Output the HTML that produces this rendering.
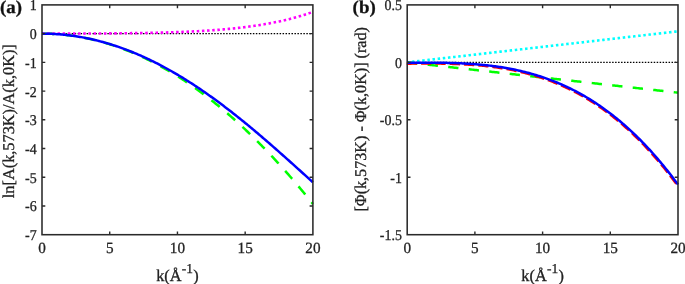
<!DOCTYPE html>
<html lang="en"><head><meta charset="utf-8"><title>Figure</title>
<style>html,body{margin:0;padding:0;background:#fff}svg{display:block;text-rendering:geometricPrecision}</style></head>
<body>
<svg width="685" height="284" viewBox="0 0 685 284">
<rect width="685" height="284" fill="#fff"/>
<g fill="none">
<path d="M42.0,33.62H312.9" stroke="#000" stroke-width="1.3" stroke-dasharray="1.5 1.47"/>
<path d="M42.00,33.62 L43.35,33.63 L44.71,33.64 L46.06,33.66 L47.42,33.69 L48.77,33.73 L50.13,33.78 L51.48,33.83 L52.84,33.90 L54.19,33.97 L55.55,34.05 L56.90,34.14 L58.25,34.24 L59.61,34.34 L60.96,34.46 L62.32,34.58 L63.67,34.72 L65.03,34.86 L66.38,35.00 L67.74,35.16 L69.09,35.33 L70.44,35.50 L71.80,35.69 L73.15,35.88 L74.51,36.08 L75.86,36.29 L77.22,36.50 L78.57,36.73 L79.93,36.96 L81.28,37.21 L82.63,37.46 L83.99,37.72 L85.34,37.99 L86.70,38.26 L88.05,38.55 L89.41,38.84 L90.76,39.14 L92.12,39.45 L93.47,39.77 L94.83,40.10 L96.18,40.44 L97.53,40.78 L98.89,41.14 L100.24,41.50 L101.60,41.87 L102.95,42.25 L104.31,42.64 L105.66,43.03 L107.02,43.44 L108.37,43.85 L109.72,44.27 L111.08,44.70 L112.43,45.14 L113.79,45.59 L115.14,46.04 L116.50,46.51 L117.85,46.98 L119.21,47.46 L120.56,47.95 L121.92,48.45 L123.27,48.96 L124.62,49.47 L125.98,49.99 L127.33,50.53 L128.69,51.07 L130.04,51.62 L131.40,52.17 L132.75,52.74 L134.11,53.32 L135.46,53.90 L136.81,54.49 L138.17,55.09 L139.52,55.70 L140.88,56.32 L142.23,56.94 L143.59,57.58 L144.94,58.22 L146.30,58.87 L147.65,59.53 L149.01,60.20 L150.36,60.88 L151.71,61.56 L153.07,62.26 L154.42,62.96 L155.78,63.67 L157.13,64.39 L158.49,65.12 L159.84,65.86 L161.20,66.60 L162.55,67.36 L163.90,68.12 L165.26,68.89 L166.61,69.67 L167.97,70.46 L169.32,71.25 L170.68,72.06 L172.03,72.87 L173.39,73.69 L174.74,74.52 L176.10,75.36 L177.45,76.21 L178.80,77.07 L180.16,77.93 L181.51,78.80 L182.87,79.68 L184.22,80.57 L185.58,81.47 L186.93,82.38 L188.29,83.30 L189.64,84.22 L191.00,85.15 L192.35,86.09 L193.70,87.04 L195.06,88.00 L196.41,88.97 L197.77,89.94 L199.12,90.93 L200.48,91.92 L201.83,92.92 L203.19,93.93 L204.54,94.95 L205.89,95.97 L207.25,97.01 L208.60,98.05 L209.96,99.10 L211.31,100.16 L212.67,101.23 L214.02,102.31 L215.38,103.40 L216.73,104.49 L218.08,105.59 L219.44,106.70 L220.79,107.82 L222.15,108.95 L223.50,110.09 L224.86,111.24 L226.21,112.39 L227.57,113.55 L228.92,114.72 L230.28,115.90 L231.63,117.09 L232.98,118.29 L234.34,119.49 L235.69,120.71 L237.05,121.93 L238.40,123.16 L239.76,124.40 L241.11,125.65 L242.47,126.90 L243.82,128.17 L245.17,129.44 L246.53,130.72 L247.88,132.01 L249.24,133.31 L250.59,134.62 L251.95,135.94 L253.30,137.26 L254.66,138.59 L256.01,139.93 L257.37,141.28 L258.72,142.64 L260.07,144.01 L261.43,145.38 L262.78,146.77 L264.14,148.16 L265.49,149.56 L266.85,150.97 L268.20,152.39 L269.56,153.82 L270.91,155.25 L272.26,156.70 L273.62,158.15 L274.97,159.61 L276.33,161.08 L277.68,162.55 L279.04,164.04 L280.39,165.54 L281.75,167.04 L283.10,168.55 L284.46,170.07 L285.81,171.60 L287.16,173.14 L288.52,174.68 L289.87,176.24 L291.23,177.80 L292.58,179.37 L293.94,180.95 L295.29,182.54 L296.65,184.14 L298.00,185.74 L299.35,187.36 L300.71,188.98 L302.06,190.61 L303.42,192.25 L304.77,193.90 L306.13,195.55 L307.48,197.22 L308.84,198.89 L310.19,200.57 L311.55,202.27 L312.90,203.96" stroke="#00ff00" stroke-width="2.5" stroke-dasharray="10.6 9.84" stroke-dashoffset="-1.6"/>
<path d="M42.00,33.62 L43.35,33.62 L44.71,33.62 L46.06,33.62 L47.42,33.62 L48.77,33.62 L50.13,33.62 L51.48,33.62 L52.84,33.62 L54.19,33.62 L55.55,33.62 L56.90,33.62 L58.25,33.61 L59.61,33.61 L60.96,33.61 L62.32,33.61 L63.67,33.61 L65.03,33.60 L66.38,33.60 L67.74,33.60 L69.09,33.60 L70.44,33.59 L71.80,33.59 L73.15,33.59 L74.51,33.58 L75.86,33.58 L77.22,33.57 L78.57,33.57 L79.93,33.56 L81.28,33.56 L82.63,33.55 L83.99,33.55 L85.34,33.54 L86.70,33.54 L88.05,33.53 L89.41,33.53 L90.76,33.52 L92.12,33.51 L93.47,33.51 L94.83,33.50 L96.18,33.49 L97.53,33.48 L98.89,33.48 L100.24,33.47 L101.60,33.46 L102.95,33.45 L104.31,33.44 L105.66,33.43 L107.02,33.42 L108.37,33.41 L109.72,33.40 L111.08,33.39 L112.43,33.38 L113.79,33.37 L115.14,33.35 L116.50,33.34 L117.85,33.33 L119.21,33.31 L120.56,33.30 L121.92,33.29 L123.27,33.27 L124.62,33.25 L125.98,33.24 L127.33,33.22 L128.69,33.21 L130.04,33.19 L131.40,33.17 L132.75,33.15 L134.11,33.13 L135.46,33.11 L136.81,33.09 L138.17,33.07 L139.52,33.05 L140.88,33.03 L142.23,33.00 L143.59,32.98 L144.94,32.95 L146.30,32.93 L147.65,32.90 L149.01,32.88 L150.36,32.85 L151.71,32.82 L153.07,32.79 L154.42,32.76 L155.78,32.73 L157.13,32.70 L158.49,32.66 L159.84,32.63 L161.20,32.59 L162.55,32.56 L163.90,32.52 L165.26,32.48 L166.61,32.44 L167.97,32.40 L169.32,32.36 L170.68,32.32 L172.03,32.28 L173.39,32.23 L174.74,32.18 L176.10,32.14 L177.45,32.09 L178.80,32.04 L180.16,31.99 L181.51,31.93 L182.87,31.88 L184.22,31.82 L185.58,31.77 L186.93,31.71 L188.29,31.65 L189.64,31.58 L191.00,31.52 L192.35,31.45 L193.70,31.39 L195.06,31.32 L196.41,31.25 L197.77,31.18 L199.12,31.10 L200.48,31.02 L201.83,30.95 L203.19,30.87 L204.54,30.78 L205.89,30.70 L207.25,30.61 L208.60,30.52 L209.96,30.43 L211.31,30.34 L212.67,30.24 L214.02,30.15 L215.38,30.05 L216.73,29.94 L218.08,29.84 L219.44,29.73 L220.79,29.62 L222.15,29.51 L223.50,29.39 L224.86,29.27 L226.21,29.15 L227.57,29.02 L228.92,28.90 L230.28,28.77 L231.63,28.63 L232.98,28.50 L234.34,28.36 L235.69,28.21 L237.05,28.06 L238.40,27.91 L239.76,27.76 L241.11,27.60 L242.47,27.44 L243.82,27.28 L245.17,27.11 L246.53,26.94 L247.88,26.76 L249.24,26.58 L250.59,26.40 L251.95,26.21 L253.30,26.02 L254.66,25.82 L256.01,25.62 L257.37,25.41 L258.72,25.20 L260.07,24.99 L261.43,24.77 L262.78,24.54 L264.14,24.31 L265.49,24.08 L266.85,23.84 L268.20,23.60 L269.56,23.35 L270.91,23.09 L272.26,22.83 L273.62,22.56 L274.97,22.29 L276.33,22.02 L277.68,21.73 L279.04,21.44 L280.39,21.15 L281.75,20.85 L283.10,20.54 L284.46,20.22 L285.81,19.90 L287.16,19.58 L288.52,19.24 L289.87,18.90 L291.23,18.55 L292.58,18.20 L293.94,17.84 L295.29,17.47 L296.65,17.09 L298.00,16.70 L299.35,16.31 L300.71,15.91 L302.06,15.50 L303.42,15.09 L304.77,14.66 L306.13,14.23 L307.48,13.79 L308.84,13.34 L310.19,12.88 L311.55,12.41 L312.90,11.94" stroke="#ff00ff" stroke-width="2.6" stroke-dasharray="2.5 2.66"/>
<path d="M42.00,33.62 L43.35,33.63 L44.71,33.64 L46.06,33.66 L47.42,33.69 L48.77,33.73 L50.13,33.78 L51.48,33.83 L52.84,33.89 L54.19,33.96 L55.55,34.04 L56.90,34.13 L58.25,34.23 L59.61,34.33 L60.96,34.45 L62.32,34.57 L63.67,34.70 L65.03,34.83 L66.38,34.98 L67.74,35.14 L69.09,35.30 L70.44,35.47 L71.80,35.65 L73.15,35.84 L74.51,36.03 L75.86,36.24 L77.22,36.45 L78.57,36.67 L79.93,36.90 L81.28,37.14 L82.63,37.39 L83.99,37.64 L85.34,37.90 L86.70,38.18 L88.05,38.46 L89.41,38.74 L90.76,39.04 L92.12,39.34 L93.47,39.66 L94.83,39.98 L96.18,40.31 L97.53,40.64 L98.89,40.99 L100.24,41.34 L101.60,41.70 L102.95,42.07 L104.31,42.45 L105.66,42.84 L107.02,43.23 L108.37,43.64 L109.72,44.05 L111.08,44.47 L112.43,44.89 L113.79,45.33 L115.14,45.77 L116.50,46.22 L117.85,46.68 L119.21,47.15 L120.56,47.63 L121.92,48.11 L123.27,48.60 L124.62,49.10 L125.98,49.61 L127.33,50.12 L128.69,50.65 L130.04,51.18 L131.40,51.72 L132.75,52.27 L134.11,52.82 L135.46,53.39 L136.81,53.96 L138.17,54.54 L139.52,55.12 L140.88,55.72 L142.23,56.32 L143.59,56.93 L144.94,57.55 L146.30,58.18 L147.65,58.81 L149.01,59.45 L150.36,60.10 L151.71,60.76 L153.07,61.42 L154.42,62.10 L155.78,62.78 L157.13,63.46 L158.49,64.16 L159.84,64.86 L161.20,65.57 L162.55,66.29 L163.90,67.01 L165.26,67.75 L166.61,68.49 L167.97,69.23 L169.32,69.99 L170.68,70.75 L172.03,71.52 L173.39,72.30 L174.74,73.08 L176.10,73.87 L177.45,74.67 L178.80,75.48 L180.16,76.29 L181.51,77.11 L182.87,77.94 L184.22,78.77 L185.58,79.61 L186.93,80.46 L188.29,81.32 L189.64,82.18 L191.00,83.05 L192.35,83.92 L193.70,84.81 L195.06,85.70 L196.41,86.59 L197.77,87.49 L199.12,88.40 L200.48,89.32 L201.83,90.24 L203.19,91.17 L204.54,92.11 L205.89,93.05 L207.25,94.00 L208.60,94.95 L209.96,95.91 L211.31,96.88 L212.67,97.85 L214.02,98.83 L215.38,99.82 L216.73,100.81 L218.08,101.81 L219.44,102.81 L220.79,103.82 L222.15,104.83 L223.50,105.85 L224.86,106.88 L226.21,107.91 L227.57,108.95 L228.92,110.00 L230.28,111.04 L231.63,112.10 L232.98,113.16 L234.34,114.22 L235.69,115.29 L237.05,116.37 L238.40,117.45 L239.76,118.53 L241.11,119.63 L242.47,120.72 L243.82,121.82 L245.17,122.93 L246.53,124.04 L247.88,125.15 L249.24,126.27 L250.59,127.39 L251.95,128.52 L253.30,129.65 L254.66,130.79 L256.01,131.93 L257.37,133.07 L258.72,134.22 L260.07,135.37 L261.43,136.53 L262.78,137.69 L264.14,138.85 L265.49,140.02 L266.85,141.19 L268.20,142.36 L269.56,143.54 L270.91,144.72 L272.26,145.90 L273.62,147.09 L274.97,148.28 L276.33,149.47 L277.68,150.66 L279.04,151.86 L280.39,153.06 L281.75,154.26 L283.10,155.46 L284.46,156.67 L285.81,157.88 L287.16,159.09 L288.52,160.30 L289.87,161.51 L291.23,162.73 L292.58,163.94 L293.94,165.16 L295.29,166.38 L296.65,167.60 L298.00,168.82 L299.35,170.04 L300.71,171.27 L302.06,172.49 L303.42,173.71 L304.77,174.94 L306.13,176.16 L307.48,177.38 L308.84,178.61 L310.19,179.83 L311.55,181.05 L312.90,182.28" stroke="#0000ff" stroke-width="2.5"/>
<path d="M407.2,62.35H678.0" stroke="#000" stroke-width="1.3" stroke-dasharray="1.5 1.47"/>
<path d="M407.20,62.35 L408.55,62.19 L409.91,62.04 L411.26,61.88 L412.62,61.73 L413.97,61.57 L415.32,61.42 L416.68,61.26 L418.03,61.11 L419.39,60.95 L420.74,60.80 L422.09,60.64 L423.45,60.49 L424.80,60.33 L426.16,60.18 L427.51,60.02 L428.86,59.87 L430.22,59.71 L431.57,59.56 L432.93,59.40 L434.28,59.25 L435.63,59.09 L436.99,58.94 L438.34,58.78 L439.70,58.63 L441.05,58.47 L442.40,58.32 L443.76,58.16 L445.11,58.01 L446.47,57.85 L447.82,57.70 L449.17,57.54 L450.53,57.39 L451.88,57.23 L453.24,57.08 L454.59,56.92 L455.94,56.77 L457.30,56.61 L458.65,56.46 L460.01,56.30 L461.36,56.15 L462.71,55.99 L464.07,55.84 L465.42,55.68 L466.78,55.52 L468.13,55.37 L469.48,55.21 L470.84,55.06 L472.19,54.90 L473.55,54.75 L474.90,54.59 L476.25,54.44 L477.61,54.28 L478.96,54.13 L480.32,53.97 L481.67,53.82 L483.02,53.66 L484.38,53.51 L485.73,53.35 L487.09,53.20 L488.44,53.04 L489.79,52.89 L491.15,52.73 L492.50,52.58 L493.86,52.42 L495.21,52.27 L496.56,52.11 L497.92,51.96 L499.27,51.80 L500.63,51.65 L501.98,51.49 L503.33,51.34 L504.69,51.18 L506.04,51.03 L507.40,50.87 L508.75,50.72 L510.10,50.56 L511.46,50.41 L512.81,50.25 L514.17,50.10 L515.52,49.94 L516.87,49.79 L518.23,49.63 L519.58,49.48 L520.94,49.32 L522.29,49.17 L523.64,49.01 L525.00,48.85 L526.35,48.70 L527.71,48.54 L529.06,48.39 L530.41,48.23 L531.77,48.08 L533.12,47.92 L534.48,47.77 L535.83,47.61 L537.18,47.46 L538.54,47.30 L539.89,47.15 L541.25,46.99 L542.60,46.84 L543.95,46.68 L545.31,46.53 L546.66,46.37 L548.02,46.22 L549.37,46.06 L550.72,45.91 L552.08,45.75 L553.43,45.60 L554.79,45.44 L556.14,45.29 L557.49,45.13 L558.85,44.98 L560.20,44.82 L561.56,44.67 L562.91,44.51 L564.26,44.36 L565.62,44.20 L566.97,44.05 L568.33,43.89 L569.68,43.74 L571.03,43.58 L572.39,43.43 L573.74,43.27 L575.10,43.12 L576.45,42.96 L577.80,42.81 L579.16,42.65 L580.51,42.50 L581.87,42.34 L583.22,42.19 L584.57,42.03 L585.93,41.87 L587.28,41.72 L588.64,41.56 L589.99,41.41 L591.34,41.25 L592.70,41.10 L594.05,40.94 L595.41,40.79 L596.76,40.63 L598.11,40.48 L599.47,40.32 L600.82,40.17 L602.18,40.01 L603.53,39.86 L604.88,39.70 L606.24,39.55 L607.59,39.39 L608.95,39.24 L610.30,39.08 L611.65,38.93 L613.01,38.77 L614.36,38.62 L615.72,38.46 L617.07,38.31 L618.42,38.15 L619.78,38.00 L621.13,37.84 L622.49,37.69 L623.84,37.53 L625.19,37.38 L626.55,37.22 L627.90,37.07 L629.26,36.91 L630.61,36.76 L631.96,36.60 L633.32,36.45 L634.67,36.29 L636.03,36.14 L637.38,35.98 L638.73,35.83 L640.09,35.67 L641.44,35.52 L642.80,35.36 L644.15,35.20 L645.50,35.05 L646.86,34.89 L648.21,34.74 L649.57,34.58 L650.92,34.43 L652.27,34.27 L653.63,34.12 L654.98,33.96 L656.34,33.81 L657.69,33.65 L659.04,33.50 L660.40,33.34 L661.75,33.19 L663.11,33.03 L664.46,32.88 L665.81,32.72 L667.17,32.57 L668.52,32.41 L669.88,32.26 L671.23,32.10 L672.58,31.95 L673.94,31.79 L675.29,31.64 L676.65,31.48 L678.00,31.33" stroke="#00ffff" stroke-width="2.6" stroke-dasharray="2.5 2.675" stroke-dashoffset="0.4"/>
<path d="M407.20,62.35 L408.55,62.50 L409.91,62.65 L411.26,62.81 L412.62,62.96 L413.97,63.11 L415.32,63.26 L416.68,63.41 L418.03,63.56 L419.39,63.72 L420.74,63.87 L422.09,64.02 L423.45,64.17 L424.80,64.32 L426.16,64.47 L427.51,64.63 L428.86,64.78 L430.22,64.93 L431.57,65.08 L432.93,65.23 L434.28,65.38 L435.63,65.54 L436.99,65.69 L438.34,65.84 L439.70,65.99 L441.05,66.14 L442.40,66.29 L443.76,66.45 L445.11,66.60 L446.47,66.75 L447.82,66.90 L449.17,67.05 L450.53,67.20 L451.88,67.36 L453.24,67.51 L454.59,67.66 L455.94,67.81 L457.30,67.96 L458.65,68.11 L460.01,68.27 L461.36,68.42 L462.71,68.57 L464.07,68.72 L465.42,68.87 L466.78,69.02 L468.13,69.18 L469.48,69.33 L470.84,69.48 L472.19,69.63 L473.55,69.78 L474.90,69.93 L476.25,70.09 L477.61,70.24 L478.96,70.39 L480.32,70.54 L481.67,70.69 L483.02,70.84 L484.38,71.00 L485.73,71.15 L487.09,71.30 L488.44,71.45 L489.79,71.60 L491.15,71.75 L492.50,71.91 L493.86,72.06 L495.21,72.21 L496.56,72.36 L497.92,72.51 L499.27,72.66 L500.63,72.82 L501.98,72.97 L503.33,73.12 L504.69,73.27 L506.04,73.42 L507.40,73.57 L508.75,73.73 L510.10,73.88 L511.46,74.03 L512.81,74.18 L514.17,74.33 L515.52,74.48 L516.87,74.64 L518.23,74.79 L519.58,74.94 L520.94,75.09 L522.29,75.24 L523.64,75.39 L525.00,75.55 L526.35,75.70 L527.71,75.85 L529.06,76.00 L530.41,76.15 L531.77,76.30 L533.12,76.46 L534.48,76.61 L535.83,76.76 L537.18,76.91 L538.54,77.06 L539.89,77.21 L541.25,77.37 L542.60,77.52 L543.95,77.67 L545.31,77.82 L546.66,77.97 L548.02,78.12 L549.37,78.28 L550.72,78.43 L552.08,78.58 L553.43,78.73 L554.79,78.88 L556.14,79.03 L557.49,79.19 L558.85,79.34 L560.20,79.49 L561.56,79.64 L562.91,79.79 L564.26,79.94 L565.62,80.10 L566.97,80.25 L568.33,80.40 L569.68,80.55 L571.03,80.70 L572.39,80.85 L573.74,81.01 L575.10,81.16 L576.45,81.31 L577.80,81.46 L579.16,81.61 L580.51,81.76 L581.87,81.92 L583.22,82.07 L584.57,82.22 L585.93,82.37 L587.28,82.52 L588.64,82.67 L589.99,82.83 L591.34,82.98 L592.70,83.13 L594.05,83.28 L595.41,83.43 L596.76,83.58 L598.11,83.74 L599.47,83.89 L600.82,84.04 L602.18,84.19 L603.53,84.34 L604.88,84.49 L606.24,84.65 L607.59,84.80 L608.95,84.95 L610.30,85.10 L611.65,85.25 L613.01,85.40 L614.36,85.56 L615.72,85.71 L617.07,85.86 L618.42,86.01 L619.78,86.16 L621.13,86.31 L622.49,86.47 L623.84,86.62 L625.19,86.77 L626.55,86.92 L627.90,87.07 L629.26,87.22 L630.61,87.38 L631.96,87.53 L633.32,87.68 L634.67,87.83 L636.03,87.98 L637.38,88.13 L638.73,88.29 L640.09,88.44 L641.44,88.59 L642.80,88.74 L644.15,88.89 L645.50,89.04 L646.86,89.20 L648.21,89.35 L649.57,89.50 L650.92,89.65 L652.27,89.80 L653.63,89.95 L654.98,90.11 L656.34,90.26 L657.69,90.41 L659.04,90.56 L660.40,90.71 L661.75,90.86 L663.11,91.02 L664.46,91.17 L665.81,91.32 L667.17,91.47 L668.52,91.62 L669.88,91.77 L671.23,91.93 L672.58,92.08 L673.94,92.23 L675.29,92.38 L676.65,92.53 L678.00,92.68" stroke="#00ff00" stroke-width="2.5" stroke-dasharray="10.3 10.33"/>
<path d="M406.75,63.56 L408.10,63.55 L409.46,63.54 L410.81,63.53 L412.17,63.51 L413.52,63.50 L414.87,63.49 L416.23,63.48 L417.58,63.48 L418.94,63.47 L420.29,63.46 L421.64,63.45 L423.00,63.45 L424.35,63.44 L425.71,63.44 L427.06,63.44 L428.41,63.44 L429.77,63.44 L431.12,63.44 L432.48,63.45 L433.83,63.45 L435.18,63.46 L436.54,63.47 L437.89,63.48 L439.25,63.50 L440.60,63.51 L441.95,63.53 L443.31,63.55 L444.66,63.58 L446.02,63.60 L447.37,63.63 L448.72,63.67 L450.08,63.70 L451.43,63.74 L452.79,63.78 L454.14,63.82 L455.49,63.87 L456.85,63.92 L458.20,63.97 L459.56,64.03 L460.91,64.09 L462.26,64.16 L463.62,64.23 L464.97,64.30 L466.33,64.38 L467.68,64.46 L469.03,64.54 L470.39,64.63 L471.74,64.72 L473.10,64.82 L474.45,64.92 L475.80,65.03 L477.16,65.14 L478.51,65.26 L479.87,65.38 L481.22,65.51 L482.57,65.64 L483.93,65.78 L485.28,65.92 L486.64,66.07 L487.99,66.22 L489.34,66.38 L490.70,66.54 L492.05,66.71 L493.41,66.89 L494.76,67.07 L496.11,67.26 L497.47,67.46 L498.82,67.66 L500.18,67.86 L501.53,68.08 L502.88,68.30 L504.24,68.52 L505.59,68.76 L506.95,68.99 L508.30,69.24 L509.65,69.50 L511.01,69.76 L512.36,70.02 L513.72,70.30 L515.07,70.58 L516.42,70.87 L517.78,71.17 L519.13,71.48 L520.49,71.79 L521.84,72.11 L523.19,72.44 L524.55,72.77 L525.90,73.12 L527.26,73.47 L528.61,73.83 L529.96,74.20 L531.32,74.58 L532.67,74.97 L534.03,75.36 L535.38,75.77 L536.73,76.18 L538.09,76.60 L539.44,77.03 L540.80,77.47 L542.15,77.92 L543.50,78.38 L544.86,78.85 L546.21,79.33 L547.57,79.81 L548.92,80.31 L550.27,80.82 L551.63,81.33 L552.98,81.86 L554.34,82.40 L555.69,82.94 L557.04,83.50 L558.40,84.07 L559.75,84.64 L561.11,85.23 L562.46,85.83 L563.81,86.44 L565.17,87.06 L566.52,87.69 L567.88,88.33 L569.23,88.98 L570.58,89.65 L571.94,90.32 L573.29,91.01 L574.65,91.71 L576.00,92.42 L577.35,93.14 L578.71,93.87 L580.06,94.62 L581.42,95.38 L582.77,96.14 L584.12,96.93 L585.48,97.72 L586.83,98.52 L588.19,99.34 L589.54,100.17 L590.89,101.02 L592.25,101.87 L593.60,102.74 L594.96,103.62 L596.31,104.51 L597.66,105.42 L599.02,106.34 L600.37,107.28 L601.73,108.22 L603.08,109.18 L604.43,110.16 L605.79,111.14 L607.14,112.14 L608.50,113.16 L609.85,114.19 L611.20,115.23 L612.56,116.29 L613.91,117.36 L615.27,118.44 L616.62,119.54 L617.97,120.66 L619.33,121.78 L620.68,122.93 L622.04,124.08 L623.39,125.26 L624.74,126.44 L626.10,127.65 L627.45,128.86 L628.81,130.10 L630.16,131.34 L631.51,132.61 L632.87,133.89 L634.22,135.18 L635.58,136.49 L636.93,137.81 L638.28,139.16 L639.64,140.51 L640.99,141.89 L642.35,143.28 L643.70,144.68 L645.05,146.10 L646.41,147.54 L647.76,149.00 L649.12,150.47 L650.47,151.95 L651.82,153.46 L653.18,154.98 L654.53,156.52 L655.89,158.07 L657.24,159.65 L658.59,161.24 L659.95,162.84 L661.30,164.47 L662.66,166.11 L664.01,167.77 L665.36,169.45 L666.72,171.14 L668.07,172.86 L669.43,174.59 L670.78,176.33 L672.13,178.10 L673.49,179.89 L674.84,181.69 L676.20,183.51 L677.55,185.35" stroke="#ff0000" stroke-width="2.7" stroke-dasharray="10.3 4"/>
<path d="M407.20,62.81 L408.55,62.80 L409.91,62.79 L411.26,62.78 L412.62,62.76 L413.97,62.75 L415.32,62.74 L416.68,62.73 L418.03,62.73 L419.39,62.72 L420.74,62.71 L422.09,62.70 L423.45,62.70 L424.80,62.69 L426.16,62.69 L427.51,62.69 L428.86,62.69 L430.22,62.69 L431.57,62.69 L432.93,62.70 L434.28,62.70 L435.63,62.71 L436.99,62.72 L438.34,62.73 L439.70,62.75 L441.05,62.76 L442.40,62.78 L443.76,62.80 L445.11,62.83 L446.47,62.85 L447.82,62.88 L449.17,62.92 L450.53,62.95 L451.88,62.99 L453.24,63.03 L454.59,63.07 L455.94,63.12 L457.30,63.17 L458.65,63.22 L460.01,63.28 L461.36,63.34 L462.71,63.41 L464.07,63.48 L465.42,63.55 L466.78,63.63 L468.13,63.71 L469.48,63.79 L470.84,63.88 L472.19,63.97 L473.55,64.07 L474.90,64.17 L476.25,64.28 L477.61,64.39 L478.96,64.51 L480.32,64.63 L481.67,64.76 L483.02,64.89 L484.38,65.03 L485.73,65.17 L487.09,65.32 L488.44,65.47 L489.79,65.63 L491.15,65.79 L492.50,65.96 L493.86,66.14 L495.21,66.32 L496.56,66.51 L497.92,66.71 L499.27,66.91 L500.63,67.11 L501.98,67.33 L503.33,67.55 L504.69,67.77 L506.04,68.01 L507.40,68.24 L508.75,68.49 L510.10,68.75 L511.46,69.01 L512.81,69.27 L514.17,69.55 L515.52,69.83 L516.87,70.12 L518.23,70.42 L519.58,70.73 L520.94,71.04 L522.29,71.36 L523.64,71.69 L525.00,72.02 L526.35,72.37 L527.71,72.72 L529.06,73.08 L530.41,73.45 L531.77,73.83 L533.12,74.22 L534.48,74.61 L535.83,75.02 L537.18,75.43 L538.54,75.85 L539.89,76.28 L541.25,76.72 L542.60,77.17 L543.95,77.63 L545.31,78.10 L546.66,78.58 L548.02,79.06 L549.37,79.56 L550.72,80.07 L552.08,80.58 L553.43,81.11 L554.79,81.65 L556.14,82.19 L557.49,82.75 L558.85,83.32 L560.20,83.89 L561.56,84.48 L562.91,85.08 L564.26,85.69 L565.62,86.31 L566.97,86.94 L568.33,87.58 L569.68,88.23 L571.03,88.90 L572.39,89.57 L573.74,90.26 L575.10,90.96 L576.45,91.67 L577.80,92.39 L579.16,93.12 L580.51,93.87 L581.87,94.63 L583.22,95.39 L584.57,96.18 L585.93,96.97 L587.28,97.77 L588.64,98.59 L589.99,99.42 L591.34,100.27 L592.70,101.12 L594.05,101.99 L595.41,102.87 L596.76,103.76 L598.11,104.67 L599.47,105.59 L600.82,106.53 L602.18,107.47 L603.53,108.43 L604.88,109.41 L606.24,110.39 L607.59,111.39 L608.95,112.41 L610.30,113.44 L611.65,114.48 L613.01,115.54 L614.36,116.61 L615.72,117.69 L617.07,118.79 L618.42,119.91 L619.78,121.03 L621.13,122.18 L622.49,123.33 L623.84,124.51 L625.19,125.69 L626.55,126.90 L627.90,128.11 L629.26,129.35 L630.61,130.59 L631.96,131.86 L633.32,133.14 L634.67,134.43 L636.03,135.74 L637.38,137.06 L638.73,138.41 L640.09,139.76 L641.44,141.14 L642.80,142.53 L644.15,143.93 L645.50,145.35 L646.86,146.79 L648.21,148.25 L649.57,149.72 L650.92,151.20 L652.27,152.71 L653.63,154.23 L654.98,155.77 L656.34,157.32 L657.69,158.90 L659.04,160.49 L660.40,162.09 L661.75,163.72 L663.11,165.36 L664.46,167.02 L665.81,168.70 L667.17,170.39 L668.52,172.11 L669.88,173.84 L671.23,175.58 L672.58,177.35 L673.94,179.14 L675.29,180.94 L676.65,182.76 L678.00,184.60" stroke="#0000ff" stroke-width="2.5"/>
</g>
<rect x="42.0" y="4.9" width="270.90" height="229.80" fill="none" stroke="#2a2a2a" stroke-width="1.55"/>
<path d="M109.72,234.7v-3.3M109.72,4.9v3.3M177.45,234.7v-3.3M177.45,4.9v3.3M245.17,234.7v-3.3M245.17,4.9v3.3M42.0,33.62h3.3M312.9,33.62h-3.3M42.0,62.35h3.3M312.9,62.35h-3.3M42.0,91.08h3.3M312.9,91.08h-3.3M42.0,119.80h3.3M312.9,119.80h-3.3M42.0,148.53h3.3M312.9,148.53h-3.3M42.0,177.25h3.3M312.9,177.25h-3.3M42.0,205.97h3.3M312.9,205.97h-3.3" stroke="#2a2a2a" stroke-width="1.4" fill="none"/>
<g font-family="'Liberation Serif', serif" font-size="15" fill="#222" stroke="#222" stroke-width="0.3">
<text transform="translate(42.00 253.10) scale(0.975 1)" font-size="15.6" text-anchor="middle">0</text>
<text transform="translate(109.72 253.10) scale(0.975 1)" font-size="15.6" text-anchor="middle">5</text>
<text transform="translate(177.45 253.10) scale(0.975 1)" font-size="15.6" text-anchor="middle">10</text>
<text transform="translate(245.17 253.10) scale(0.975 1)" font-size="15.6" text-anchor="middle">15</text>
<text transform="translate(312.90 253.10) scale(0.975 1)" font-size="15.6" text-anchor="middle">20</text>
<text transform="translate(36.70 10.40) scale(0.93 1)" text-anchor="end">1</text>
<text transform="translate(36.70 39.12) scale(0.93 1)" text-anchor="end">0</text>
<text transform="translate(36.70 67.85) scale(0.93 1)" text-anchor="end">-1</text>
<text transform="translate(36.70 96.58) scale(0.93 1)" text-anchor="end">-2</text>
<text transform="translate(36.70 125.30) scale(0.93 1)" text-anchor="end">-3</text>
<text transform="translate(36.70 154.03) scale(0.93 1)" text-anchor="end">-4</text>
<text transform="translate(36.70 182.75) scale(0.93 1)" text-anchor="end">-5</text>
<text transform="translate(36.70 211.47) scale(0.93 1)" text-anchor="end">-6</text>
<text transform="translate(36.70 240.20) scale(0.93 1)" text-anchor="end">-7</text>
</g>
<rect x="407.2" y="4.9" width="270.80" height="229.80" fill="none" stroke="#2a2a2a" stroke-width="1.55"/>
<path d="M474.90,234.7v-3.3M474.90,4.9v3.3M542.60,234.7v-3.3M542.60,4.9v3.3M610.30,234.7v-3.3M610.30,4.9v3.3M407.2,62.35h3.3M678.0,62.35h-3.3M407.2,119.80h3.3M678.0,119.80h-3.3M407.2,177.25h3.3M678.0,177.25h-3.3" stroke="#2a2a2a" stroke-width="1.4" fill="none"/>
<g font-family="'Liberation Serif', serif" font-size="15" fill="#222" stroke="#222" stroke-width="0.3">
<text transform="translate(407.20 253.10) scale(0.975 1)" font-size="15.6" text-anchor="middle">0</text>
<text transform="translate(474.90 253.10) scale(0.975 1)" font-size="15.6" text-anchor="middle">5</text>
<text transform="translate(542.60 253.10) scale(0.975 1)" font-size="15.6" text-anchor="middle">10</text>
<text transform="translate(610.30 253.10) scale(0.975 1)" font-size="15.6" text-anchor="middle">15</text>
<text transform="translate(678.00 253.10) scale(0.975 1)" font-size="15.6" text-anchor="middle">20</text>
<text transform="translate(401.90 10.40) scale(0.93 1)" text-anchor="end">0.5</text>
<text transform="translate(401.90 67.85) scale(0.93 1)" text-anchor="end">0</text>
<text transform="translate(401.90 125.30) scale(0.93 1)" text-anchor="end">-0.5</text>
<text transform="translate(401.90 182.75) scale(0.93 1)" text-anchor="end">-1</text>
<text transform="translate(401.90 240.20) scale(0.93 1)" text-anchor="end">-1.5</text>
</g>
<g font-family="'Liberation Serif', serif" fill="#222" stroke="#222" stroke-width="0.3">
<text transform="translate(0 13.1) scale(1.04 1)" font-size="18.2" font-weight="bold" fill="#111">(a)</text>
<text transform="translate(352.6 13.1) scale(1.04 1)" font-size="18.2" font-weight="bold" fill="#111">(b)</text>
<text transform="translate(177.5 281.0) scale(0.988 1)" font-size="16.5" text-anchor="middle">k(Å<tspan font-size="13.6" dy="-8.4" dx="0.3">-1</tspan><tspan dy="8.4" dx="0.3">)</tspan></text>
<text transform="translate(542.6 281.0) scale(0.988 1)" font-size="16.5" text-anchor="middle">k(Å<tspan font-size="13.6" dy="-8.4" dx="0.3">-1</tspan><tspan dy="8.4" dx="0.3">)</tspan></text>
<text transform="translate(13.5 121.2) rotate(-90) scale(0.988 1)" font-size="16.5" text-anchor="middle">ln[A(k,573K)/A(k,0K)]</text>
<text transform="translate(366.3 119.3) rotate(-90) scale(0.9781 1)" font-size="16.5" text-anchor="middle">[Φ(k,573K) - Φ(k,0K)] (rad)</text>
</g>
</svg>
</body></html>
